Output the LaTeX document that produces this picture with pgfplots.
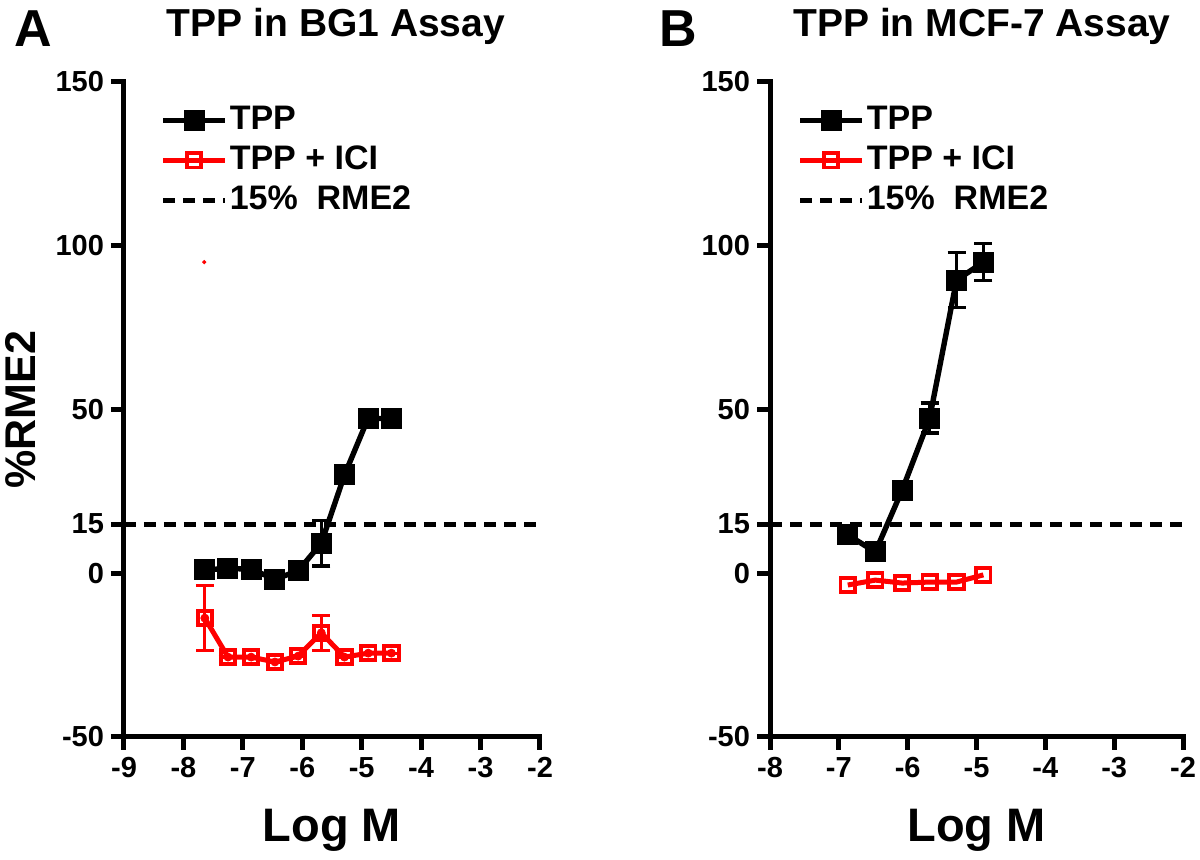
\documentclass[border=0pt]{standalone}
\usepackage{fontspec}
\setmainfont{Liberation Sans}
\usepackage{pgfplots}
\pgfplotsset{compat=1.18}
\usepackage{pgfplotstable}

\pgfplotstableread{
x y e
-7.64 1.0 0
-7.25 1.5 0
-6.86 1.2 0
-6.46 -1.8 0
-6.07 0.7 0
-5.68 9.2 7
-5.29 30.0 0
-4.89 47.4 0
-4.50 47.1 0
}\bgtpp
\pgfplotstableread{
x y e
-7.64 -13.7 10
-7.25 -25.6 0
-6.86 -25.6 0
-6.46 -27.1 0
-6.07 -25.3 0
-5.68 -18.2 5.3
-5.29 -25.6 0
-4.89 -24.4 0
-4.50 -24.4 0
}\bgici
\pgfplotstableread{
x y e
-6.87 11.7 1.5
-6.47 6.5 0
-6.08 25.4 0
-5.68 47.4 4.6
-5.29 89.5 8.4
-4.90 95.0 5.7
}\mcftpp
\pgfplotstableread{
x y e
-6.87 -3.6 0
-6.47 -2.1 0
-6.08 -3.0 0
-5.68 -2.7 0
-5.29 -2.7 0
-4.90 -0.5 0
}\mcfici

\pgfplotsset{
  myaxis/.style={
    scale only axis,
    height=327.5pt,
    ymin=-50, ymax=150,
    xmax=-2,
    axis lines=left,
    axis line style={-, line width=2.5pt, line cap=rect},
    ytick={-50,0,15,50,100,150},
    yticklabels={-50,0,15,50,100,150},
    tick align=outside,
    major tick length=6.5pt,
    tick style={line width=2.5pt, black},
    every tick label/.append style={font=\fontsize{14.5}{16}\selectfont\bfseries},
    xlabel={Log M},
    xlabel style={font=\fontsize{23.5}{26}\selectfont\bfseries, at={(axis description cs:0.5,-0.1603)}, anchor=base},
    legend style={draw=none, fill=none, inner sep=0pt, at={(axis description cs:0,1)}, anchor=north west, yshift=-10pt,
      font=\fontsize{17}{19}\selectfont\bfseries, row sep=2pt,
      nodes={inner sep=1pt, text height=12.5pt, text depth=3.5pt}},
    legend cell align=left,
    legend image code/.code={\draw[mark repeat=2,mark phase=2,##1] plot coordinates {(0pt,0pt)(15.5pt,0pt)(31pt,0pt)};},
    clip=false,
  },
  tpp/.style={black, line width=2.7pt, mark=square*, mark size=3.9pt, mark options={solid}},
  ici/.style={red, line width=2.5pt, mark=square, mark size=3.6pt, mark options={solid, fill=white, line width=1.9pt}},
  refl/.style={black, line width=2.5pt, dash pattern=on 6pt off 4pt},
  eb/.style={forget plot, only marks, mark=none, #1, error bars/.cd, y dir=both, y explicit,
    error bar style={line width=1.6pt, #1}, error mark options={rotate=90, mark size=4.5pt, line width=1.6pt, #1}},
}

\begin{document}
\begin{tikzpicture}
\path[use as bounding box] (-62pt,-61.5pt) rectangle (538pt,368.5pt);

\begin{axis}[myaxis, at={(0pt,0pt)}, anchor=south west, width=208pt,
  xmin=-9, xtick={-9,-8,-7,-6,-5,-4,-3,-2}, xticklabels={-9,-8,-7,-6,-5,-4,-3,-2},
  ylabel={\%RME2},
  ylabel style={font=\fontsize{21.5}{24}\selectfont\bfseries, at={(axis description cs:-0.2139,0.5)}, anchor=base},
  legend style={xshift=18pt}]
\addplot[eb=black] table[x=x,y=y,y error=e] {\bgtpp};
\addplot[eb=red] table[x=x,y=y,y error=e] {\bgici};
\addplot[tpp] table[x=x,y=y] {\bgtpp};
\addlegendentry{TPP}
\addplot[ici] table[x=x,y=y] {\bgici};
\addlegendentry{TPP + ICI}
\addplot[refl] coordinates {(-9,15) (-2,15)};
\addlegendentry{15\%\ \ RME2}
\addplot[red, only marks, mark=*, mark size=0.8pt, forget plot] coordinates {(-7.65,95)};
\end{axis}

\begin{axis}[myaxis, at={(323pt,0pt)}, anchor=south west, width=206.5pt,
  xmin=-8, xtick={-8,-7,-6,-5,-4,-3,-2}, xticklabels={-8,-7,-6,-5,-4,-3,-2},
  legend style={xshift=13.5pt}]
\addplot[eb=black] table[x=x,y=y,y error=e] {\mcftpp};
\addplot[tpp] table[x=x,y=y] {\mcftpp};
\addlegendentry{TPP}
\addplot[ici] table[x=x,y=y] {\mcfici};
\addlegendentry{TPP + ICI}
\addplot[refl] coordinates {(-8,15) (-2,15)};
\addlegendentry{15\%\ \ RME2}
\end{axis}

\node[font=\fontsize{19.5}{22}\selectfont\bfseries, anchor=base] at (106pt,350pt) {TPP in BG1 Assay};
\node[font=\fontsize{26}{28}\selectfont\bfseries, anchor=base] at (-45.5pt,345pt) {A};
\node[font=\fontsize{19.5}{22}\selectfont\bfseries, anchor=base] at (429pt,350pt) {TPP in MCF-7 Assay};
\node[font=\fontsize{26}{28}\selectfont\bfseries, anchor=base] at (277pt,345pt) {B};
\end{tikzpicture}
\end{document}
